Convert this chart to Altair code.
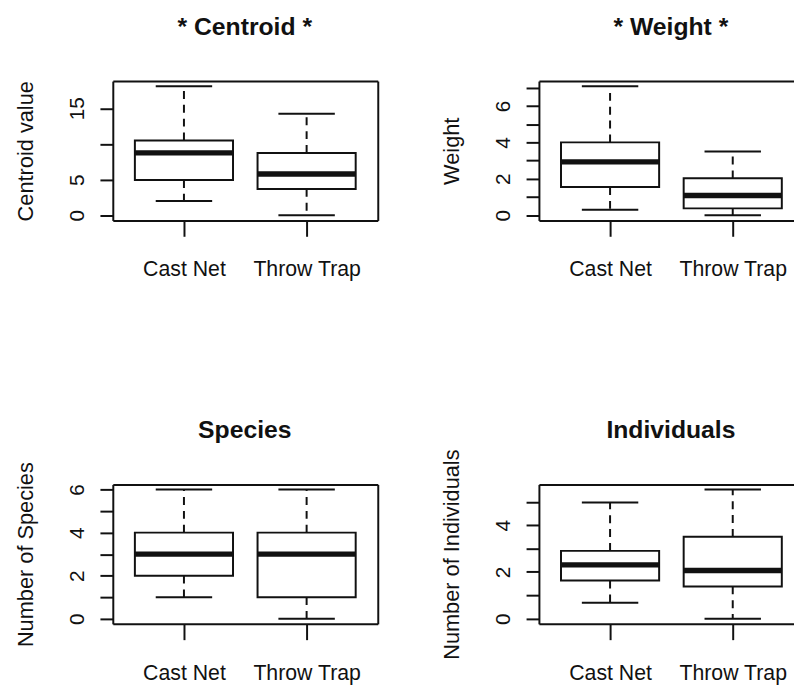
import json
import altair as alt
import pandas as pd

# ---------------- data ----------------
categories = ["Cast Net", "Throw Trap"]
positions = [1, 2]

centroid_min = [2.0, 0.0]
centroid_q1 = [4.95, 3.7]
centroid_median = [8.75, 5.8]
centroid_q3 = [10.5, 8.75]
centroid_max = [18.1, 14.25]
centroid_ticks = [0, 5, 10, 15]
centroid_labels = [0, 5, 15]

weight_min = [0.3, 0.0]
weight_q1 = [1.55, 0.38]
weight_median = [2.93, 1.09]
weight_q3 = [4.0, 2.03]
weight_max = [7.08, 3.5]
weight_ticks = [0, 1, 2, 3, 4, 5, 6, 7]
weight_labels = [0, 2, 4, 6]

species_min = [1, 0]
species_q1 = [2, 1]
species_median = [3, 3]
species_q3 = [4, 4]
species_max = [6, 6]
species_ticks = [0, 1, 2, 3, 4, 5, 6]
species_labels = [0, 2, 4, 6]

indiv_min = [0.68, 0.0]
indiv_q1 = [1.63, 1.38]
indiv_median = [2.3, 2.06]
indiv_q3 = [2.9, 3.5]
indiv_max = [4.97, 5.52]
indiv_ticks = [0, 1, 2, 3, 4, 5]
indiv_labels = [0, 2, 4]

# ---------------- styling ----------------
FONT = "Liberation Sans"
FULL_W = 268
PANEL_H = 141
UNIT = FULL_W / 2.16  # px per x unit (R xlim 0.42..2.58)
INK = "#111111"


def panel(title, ytitle, mins, q1s, meds, q3s, maxs, ticks, labels, width, right_frame):
    df = pd.DataFrame({
        "cat": categories, "pos": positions,
        "lo": mins, "q1": q1s, "med": meds, "q3": q3s, "hi": maxs,
    })
    lo, hi = min(mins), max(maxs)
    rng = hi - lo
    ydom = [lo - 0.04 * rng, hi + 0.04 * rng]
    xdom = [0.42, 0.42 + width / UNIT]
    xs = alt.Scale(domain=xdom, nice=False, zero=False)
    ys = alt.Scale(domain=ydom, nice=False, zero=False)

    cat_expr = f"{json.dumps(categories)}[datum.value - 1]"
    lab_expr = f"indexof({json.dumps(labels)}, datum.value) >= 0 ? datum.label : ''"

    x_bottom = alt.Axis(
        orient="bottom", values=positions, labelExpr=cat_expr, grid=False, title=None,
        labelFont=FONT, labelFontSize=21.5, labelColor=INK, labelAngle=0,
        labelBaseline="alphabetic", labelAlign="center", labelPadding=40,
        labelFlush=False, labelOverlap=False,
        tickSize=16, tickWidth=2, tickColor=INK, domainColor=INK, domainWidth=2,
    )
    x_top = alt.Axis(
        orient="top", labels=False, ticks=False, grid=False,
        domainColor=INK, domainWidth=2,
        title=title, titleFont=FONT, titleFontSize=25, titleFontWeight="bold",
        titleColor=INK, titleAngle=0, titleAlign="center", titleBaseline="alphabetic",
        titleX=FULL_W / 2 - 1, titleY=-47,
    )
    y_left = alt.Axis(
        orient="left", values=ticks, labelExpr=lab_expr, grid=False,
        labelFont=FONT, labelFontSize=21, labelColor=INK, labelAngle=270,
        labelAlign="center", labelBaseline="alphabetic", labelPadding=17,
        labelFlush=False, labelOverlap=False,
        tickSize=13, tickWidth=2, tickColor=INK, domainColor=INK, domainWidth=2,
        title=ytitle, titleFont=FONT, titleFontSize=22, titleFontWeight="normal",
        titleColor=INK, titleAngle=270, titleAlign="center", titleBaseline="alphabetic",
        titleX=-81, titleY=PANEL_H / 2,
    )
    y_right = alt.Axis(orient="right", labels=False, ticks=False, grid=False, title=None,
                       domainColor=INK, domainWidth=2)

    base = alt.Chart(df).transform_calculate(
        bl="datum.pos - 0.4", br="datum.pos + 0.4",
        cl="datum.pos - 0.23", cr="datum.pos + 0.23",
    )

    upper_whisker = base.mark_rule(color=INK, strokeWidth=2, strokeDash=[8, 6]).encode(
        x=alt.X("pos:Q", scale=xs, axis=x_top),
        y=alt.Y("q3:Q", scale=ys, axis=(y_right if right_frame else None)),
        y2="hi:Q",
    )
    lower_whisker = base.mark_rule(color=INK, strokeWidth=2, strokeDash=[8, 6]).encode(
        x=alt.X("pos:Q", scale=xs, axis=None),
        y=alt.Y("q1:Q", scale=ys, axis=None),
        y2="lo:Q",
    )
    box = base.mark_rect(fill="white", stroke=INK, strokeWidth=2).encode(
        x=alt.X("bl:Q", scale=xs, axis=x_bottom),
        x2="br:Q",
        y=alt.Y("q1:Q", scale=ys, axis=y_left),
        y2="q3:Q",
    )
    median = base.mark_rule(color=INK, strokeWidth=5.5).encode(
        x=alt.X("bl:Q", scale=xs, axis=None), x2="br:Q",
        y=alt.Y("med:Q", scale=ys, axis=None),
    )
    cap_hi = base.mark_rule(color=INK, strokeWidth=2).encode(
        x=alt.X("cl:Q", scale=xs, axis=None), x2="cr:Q",
        y=alt.Y("hi:Q", scale=ys, axis=None),
    )
    cap_lo = base.mark_rule(color=INK, strokeWidth=2).encode(
        x=alt.X("cl:Q", scale=xs, axis=None), x2="cr:Q",
        y=alt.Y("lo:Q", scale=ys, axis=None),
    )

    return alt.layer(upper_whisker, lower_whisker, box, median, cap_hi, cap_lo).resolve_axis(
        x="independent", y="independent"
    ).properties(width=width, height=PANEL_H)


RIGHT_W = 258

p1 = panel("* Centroid *", "Centroid value", centroid_min, centroid_q1, centroid_median,
           centroid_q3, centroid_max, centroid_ticks, centroid_labels, FULL_W, True)
p2 = panel("* Weight *", "Weight", weight_min, weight_q1, weight_median,
           weight_q3, weight_max, weight_ticks, weight_labels, RIGHT_W, False)
p3 = panel("Species", "Number of Species", species_min, species_q1, species_median,
           species_q3, species_max, species_ticks, species_labels, FULL_W, True)
p4 = panel("Individuals", "Number of Individuals", indiv_min, indiv_q1, indiv_median,
           indiv_q3, indiv_max, indiv_ticks, indiv_labels, RIGHT_W, False)

chart = alt.concat(
    p1, p2, p3, p4, columns=2,
    spacing={"row": 267, "column": 163}, bounds="flush",
).properties(
    padding={"left": 7, "top": 3, "right": 0, "bottom": 0},
    background="white",
).configure_view(stroke=None)

chart.save("out.html", embed_options={"renderer": "svg", "actions": False})
